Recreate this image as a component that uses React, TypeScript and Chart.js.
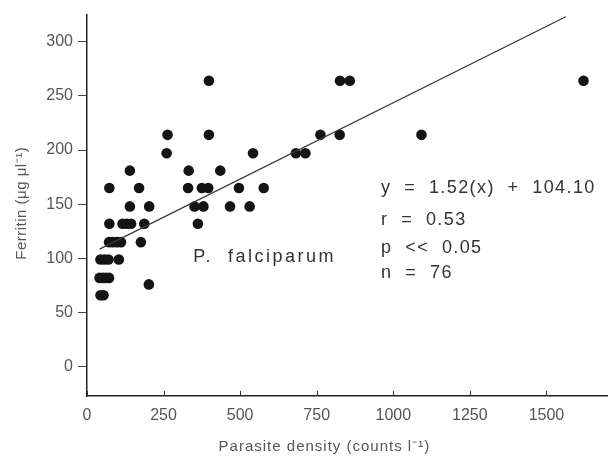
import React, { useEffect, useRef } from "react";
import { Chart, registerables } from "chart.js";

Chart.register(...registerables);

// Ferritin (y) vs parasite density (x)
const densityX = [
  398, 826, 858, 1621,
  263, 398, 762, 825, 1092,
  260, 542, 682, 713,
  140, 332, 435,
  73, 170, 330, 375, 396, 496, 577,
  140, 203, 351, 380, 467, 531,
  73, 116, 130, 144, 187, 362,
  72, 85, 98, 111, 176,
  44, 57, 70, 104,
  41, 52, 62, 72,
  202,
  44, 54,
];
const ferritinY = [
  264, 264, 264, 264,
  214, 214, 214, 214, 214,
  197, 197, 197, 197,
  181, 181, 181,
  165, 165, 165, 165, 165, 165, 165,
  148, 148, 148, 148, 148, 148,
  132, 132, 132, 132, 132, 132,
  115, 115, 115, 115, 115,
  99, 99, 99, 99,
  82, 82, 82, 82,
  76,
  66, 66,
];

// Regression line end points
const lineX = [41, 1563];
const lineY = [108.5, 323];

const xTicks = [0, 250, 500, 750, 1000, 1250, 1500];
const yTicks = [0, 50, 100, 150, 200, 250, 300];

const xTitle = "Parasite density (counts l\u207B\u00B9)";
const yTitle = "Ferritin (\u03BCg \u03BCl\u207B\u00B9)";
const speciesLabel = "P.  falciparum";
const statLines = ["y  =  1.52(x)  +  104.10", "r  =  0.53", "p  <<  0.05", "n  =  76"];
const statY = [160, 130.8, 105.2, 82.3];

const textPlugin = {
  id: "texts",
  afterDraw(chart: any) {
    const ctx = chart.ctx as CanvasRenderingContext2D;
    const xs = chart.scales.x;
    const ys = chart.scales.y;
    const ca = chart.chartArea;
    ctx.save();
    // inner x ticks
    ctx.strokeStyle = "#333";
    ctx.lineWidth = 1;
    xTicks.forEach((t) => {
      const px = Math.round(xs.getPixelForValue(t)) + 0.5;
      ctx.beginPath();
      ctx.moveTo(px, ca.bottom);
      ctx.lineTo(px, ca.bottom - 5);
      ctx.stroke();
    });
    ctx.fillStyle = "#555";
    // y title
    ctx.save();
    ctx.font = '15px "Liberation Sans"';
    (ctx as any).letterSpacing = "0.5px";
    ctx.translate(22, (ca.top + ca.bottom) / 2 - 2);
    ctx.rotate(-Math.PI / 2);
    ctx.textAlign = "center";
    ctx.textBaseline = "middle";
    ctx.fillText(yTitle, 0, 0);
    ctx.restore();
    // x title
    ctx.font = '15px "Liberation Sans"';
    (ctx as any).letterSpacing = "1px";
    ctx.textAlign = "center";
    ctx.textBaseline = "middle";
    ctx.fillText(xTitle, xs.getPixelForValue(775), 447);
    // species label
    ctx.fillStyle = "#333";
    ctx.font = '18px "Liberation Sans"';
    (ctx as any).letterSpacing = "2.5px";
    ctx.textAlign = "left";
    ctx.textBaseline = "alphabetic";
    ctx.fillText(speciesLabel, xs.getPixelForValue(347), ys.getPixelForValue(96.3));
    // stats
    (ctx as any).letterSpacing = "1.4px";
    statLines.forEach((s, i) => {
      ctx.fillText(s, xs.getPixelForValue(960), ys.getPixelForValue(statY[i]));
    });
    ctx.restore();
  },
};

export default function App() {
  const ref = useRef<HTMLCanvasElement>(null);
  useEffect(() => {
    document.body.style.margin = "0";
    const canvas = ref.current;
    if (!canvas) return;
    const points = densityX.map((x, i) => ({ x, y: ferritinY[i] }));
    const line = lineX.map((x, i) => ({ x, y: lineY[i] }));
    const chart = new Chart(canvas, {
      type: "scatter",
      data: {
        datasets: [
          {
            type: "line",
            data: line,
            borderColor: "#3a3a3a",
            borderWidth: 1.3,
            pointRadius: 0,
            fill: false,
          } as any,
          {
            data: points,
            backgroundColor: "#141414",
            borderWidth: 0,
            pointRadius: 5.3,
            pointHoverRadius: 5.3,
          },
        ],
      },
      options: {
        animation: false,
        responsive: false,
        maintainAspectRatio: false,
        layout: { padding: { top: 12, right: 0, left: 0, bottom: 0 } },
        plugins: { legend: { display: false }, tooltip: { enabled: false } },
        scales: {
          x: {
            type: "linear",
            min: 0,
            max: 1700,
            afterBuildTicks: (s: any) => {
              s.ticks = xTicks.map((v) => ({ value: v }));
            },
            afterFit: (s: any) => {
              s.height = 64;
              s.paddingRight = 0;
            },
            grid: { drawOnChartArea: false, drawTicks: false },
            border: { color: "#222", width: 1.5 },
            ticks: {
              padding: 10,
              color: "#555",
              font: { family: "Liberation Sans", size: 16 },
              maxRotation: 0,
              callback: (v: any) => String(v),
            },
          },
          y: {
            type: "linear",
            min: -27,
            max: 325,
            afterBuildTicks: (s: any) => {
              s.ticks = yTicks.map((v) => ({ value: v }));
            },
            afterFit: (s: any) => {
              s.width = 87;
            },
            grid: { drawOnChartArea: false, tickLength: 9, color: "#444" },
            border: { color: "#222", width: 1.5 },
            ticks: {
              padding: 5,
              color: "#555",
              font: { family: "Liberation Sans", size: 16 },
              callback: (v: any) => String(v),
            },
          },
        },
      },
      plugins: [textPlugin],
    });
    return () => chart.destroy();
  }, []);
  return <canvas ref={ref} width={613} height={460} style={{ display: "block" }} />;
}
